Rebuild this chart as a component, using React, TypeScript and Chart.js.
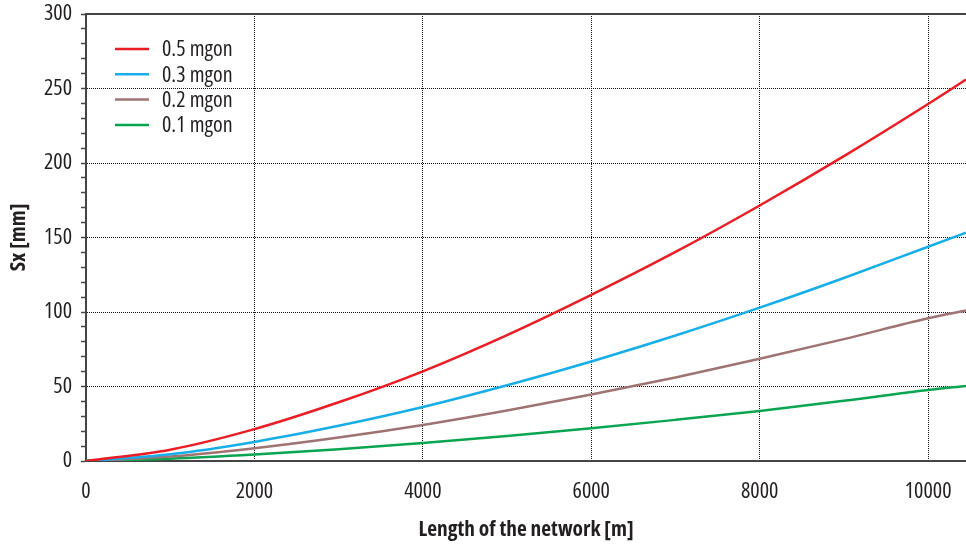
import React, { useEffect, useRef } from 'react';
import { Chart, registerables } from 'chart.js';

Chart.register(...registerables);

// Network length [m]
const lengths = [0, 1000, 2000, 3000, 4000, 5000, 6000, 7000, 8000, 9000, 10000, 10450];
// Sx [mm] per angular accuracy
const sx05 = [0, 7.6, 21.4, 39.4, 60.2, 84.5, 111.5, 140.3, 171.5, 204.6, 239.6, 256];
const sx03 = [0, 4.5, 12.8, 23.6, 36.2, 50.8, 66.8, 84.2, 102.9, 122.8, 143.8, 153.2];
const sx02 = [0, 3.0, 8.6, 15.8, 24.2, 33.9, 44.6, 56.1, 68.6, 81.8, 95.8, 101];
const sx01 = [0, 1.5, 4.3, 7.9, 12.1, 16.8, 22.0, 27.6, 33.6, 40.4, 47.6, 50.3];

const seriesLabels = ['0.5 mgon', '0.3 mgon', '0.2 mgon', '0.1 mgon'];
const seriesColors = ['#ec1c24', '#16aee9', '#a07373', '#0aa550'];
const seriesValues = [sx05, sx03, sx02, sx01];

const xTickValues = [0, 2000, 4000, 6000, 8000, 10000];
const xMin = 0;
const xMax = 10450;
const yMin = 0;
const yMax = 300;
const yMinorStep = 10;
const yMajorStep = 50;

const xTitle = 'Length of the network [m]';
const yTitle = 'Sx [mm]';

const AXIS_COLOR = '#444444';
const TEXT_COLOR = '#231f20';

type FontChoice = { family: string; regular: string; bold: string };

function pickFont(): FontChoice {
  const c = document.createElement('canvas').getContext('2d');
  const fallback = { family: '"DejaVu Sans Condensed", "Roboto", sans-serif', regular: '400', bold: 'bold' };
  if (!c) return fallback;
  const sample = '0.5 mgon 10000 Length';
  const w = (f: string) => { c.font = f; return c.measureText(sample).width; };
  const mono = w('20px monospace');
  const serif = w('20px serif');
  const exists = (fam: string) => {
    const a = w(`20px ${fam}, monospace`);
    const b = w(`20px ${fam}, serif`);
    return Math.abs(a - mono) > 0.5 || Math.abs(b - serif) > 0.5 ? a === b : false;
  };
  const dejavuCond = w('20px "DejaVu Sans Condensed", monospace');
  for (const fam of ['"Open Sans"', '"Noto Sans"', 'Roboto', 'Inter']) {
    if (!exists(fam)) continue;
    const normal = w(`20px ${fam}, monospace`);
    const cond = w(`condensed 20px ${fam}, monospace`);
    if (cond < normal * 0.92 && cond < dejavuCond) {
      return { family: `${fam}, sans-serif`, regular: 'condensed 400', bold: 'condensed bold' };
    }
  }
  for (const fam of ['"Liberation Sans Narrow"', '"Roboto Condensed"', '"Noto Sans Condensed"', '"Open Sans Condensed"']) {
    if (exists(fam)) {
      const r = w(`400 20px ${fam}, monospace`);
      const b = w(`700 20px ${fam}, monospace`);
      const regular = Math.abs(r - b) < 0.5 ? '300' : '400';
      return { family: `${fam}, sans-serif`, regular, bold: 'bold' };
    }
  }
  return fallback;
}

export default function App() {
  const ref = useRef<HTMLCanvasElement>(null);

  useEffect(() => {
    if (!ref.current) return;
    const fc = pickFont();
    const FONT = fc.family;
    const w400 = fc.regular;
    const w700 = fc.bold;

    const mc = document.createElement('canvas').getContext('2d')!;
    mc.font = `${w400} 20px ${FONT}`;
    const legendW = mc.measureText('0.5 mgon').width;
    const baseSize = Math.max(17, Math.min(22, 20 * 74 / legendW));
    mc.font = `${w700} 17px ${FONT}`;
    const titleW = mc.measureText(xTitle).width;
    const titleSize = Math.max(14, Math.min(22, 17 * 215 / titleW));

    const frameLegendPlugin = {
      id: 'frameLegend',
      afterDatasetsDraw(chart: any) {
        const { ctx, chartArea } = chart;
        ctx.save();
        ctx.strokeStyle = AXIS_COLOR;
        ctx.lineWidth = 2;
        ctx.beginPath();
        ctx.moveTo(chartArea.left, chartArea.top);
        ctx.lineTo(chartArea.right, chartArea.top);
        ctx.stroke();
        ctx.font = `${w400} ${baseSize}px ${FONT}`;
        ctx.textBaseline = 'middle';
        ctx.textAlign = 'left';
        chart.data.datasets.forEach((ds: any, i: number) => {
          const y = chartArea.top + 35 + i * 25.3;
          ctx.strokeStyle = ds.borderColor;
          ctx.lineWidth = 2.5;
          ctx.beginPath();
          ctx.moveTo(chartArea.left + 29, y);
          ctx.lineTo(chartArea.left + 63, y);
          ctx.stroke();
          ctx.fillStyle = TEXT_COLOR;
          ctx.fillText(ds.label, chartArea.left + 76, y + 1);
        });
        ctx.restore();
      },
    };

    const chart = new Chart(ref.current, {
      type: 'line',
      data: {
        datasets: seriesValues.map((vals, i) => ({
          label: seriesLabels[i],
          data: lengths.map((x, j) => ({ x, y: vals[j] })),
          borderColor: seriesColors[i],
          backgroundColor: seriesColors[i],
          borderWidth: 2.5,
          pointRadius: 0,
          cubicInterpolationMode: 'monotone' as const,
          fill: false,
        })),
      },
      options: {
        animation: false,
        responsive: false,
        events: [],
        layout: { padding: { top: 14, right: 0, left: 0, bottom: 0 } },
        plugins: {
          legend: { display: false },
          tooltip: { enabled: false },
        },
        scales: {
          x: {
            type: 'linear',
            min: xMin,
            max: xMax,
            afterBuildTicks: (s: any) => { s.ticks = xTickValues.map((v) => ({ value: v })); },
            afterFit: (s: any) => { s.height = 85; s.paddingLeft = 0; s.paddingRight = 0; },
            ticks: {
              autoSkip: false,
              maxRotation: 0,
              padding: 18,
              color: TEXT_COLOR,
              font: { family: FONT, size: baseSize, weight: w400 as any },
              callback: (v: any) => String(v),
            },
            grid: {
              drawTicks: false,
              lineWidth: 1,
              color: (c: any) => (c.tick && c.tick.value === 0 ? 'rgba(0,0,0,0)' : '#111111'),
            },
            border: { display: true, color: AXIS_COLOR, width: 2, dash: [1, 1] },
            title: {
              display: true,
              text: xTitle,
              color: TEXT_COLOR,
              font: { family: FONT, size: titleSize, weight: w700 as any },
              padding: { top: 0, bottom: 3 },
            },
          },
          y: {
            type: 'linear',
            min: yMin,
            max: yMax,
            afterFit: (s: any) => { s.width = 86; s.paddingTop = 0; s.paddingBottom = 0; },
            ticks: {
              stepSize: yMinorStep,
              autoSkip: false,
              padding: 9,
              color: TEXT_COLOR,
              font: { family: FONT, size: baseSize, weight: w400 as any },
              callback: (v: any) => (Number(v) % yMajorStep === 0 ? String(v) : ''),
            },
            grid: {
              drawTicks: true,
              tickLength: 5,
              tickWidth: 1.5,
              tickColor: AXIS_COLOR,
              lineWidth: 1,
              color: (c: any) => {
                const v = c.tick ? c.tick.value : 0;
                return v % yMajorStep === 0 && v !== yMin && v !== yMax ? '#111111' : 'rgba(0,0,0,0)';
              },
            },
            border: { display: true, color: AXIS_COLOR, width: 2, dash: [1, 1] },
            title: {
              display: true,
              text: yTitle,
              color: TEXT_COLOR,
              font: { family: FONT, size: titleSize, weight: w700 as any },
              padding: { top: 6, bottom: 0 },
            },
          },
        },
      },
      plugins: [frameLegendPlugin],
    });
    return () => chart.destroy();
  }, []);

  return (
    <div style={{ position: 'fixed', left: 0, top: 0, width: 966, height: 546, background: '#ffffff' }}>
      <canvas ref={ref} width={966} height={546} style={{ width: 966, height: 546 }} />
    </div>
  );
}
